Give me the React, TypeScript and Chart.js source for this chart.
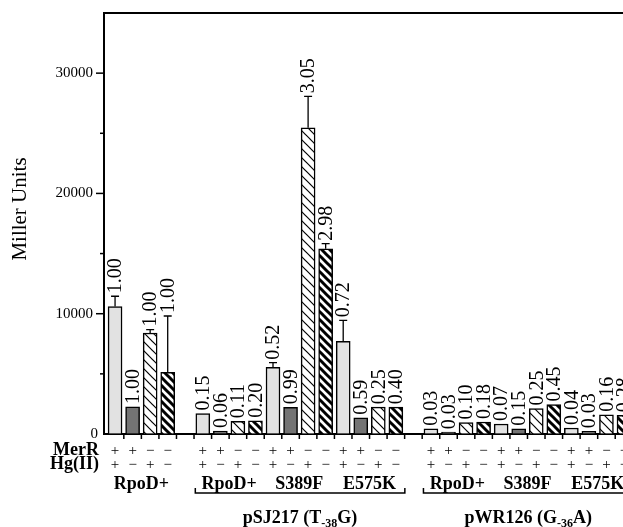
import React, { useEffect, useRef } from "react";
import { Chart, registerables } from "chart.js";

Chart.register(...registerables);

// ---------- data ----------
const merR = ["+", "+", "−", "−"];
const hgII = ["+", "−", "+", "−"];
const controlStrain = "RpoD+";
const strains = ["RpoD+", "S389F", "E575K"];
const plasmidNames = ["pSJ217", "pWR126"];
const mutationFrom = ["T", "G"];
const mutationPos = ["-38", "-36"];
const mutationTo = ["G", "A"];

const controlValues = [10600, 2250, 8400, 5130];
const controlErrors = [850, 0, 280, 4680];
const controlRatios = ["1.00", "1.00", "1.00", "1.00"];

const pSJ217Values = [1700, 250, 1050, 1100, 5550, 2220, 25450, 15400, 7700, 1350, 2230, 2230];
const pSJ217Errors = [0, 0, 0, 0, 380, 0, 2620, 420, 1750, 0, 0, 0];
const pSJ217Ratios = ["0.15", "0.06", "0.11", "0.20", "0.52", "0.99", "3.05", "2.98", "0.72", "0.59", "0.25", "0.40"];

const pWR126Values = [430, 150, 950, 1000, 830, 430, 2110, 2450, 500, 220, 1600, 1550];
const pWR126Errors = [0, 0, 0, 0, 0, 0, 0, 0, 0, 0, 0, 0];
const pWR126Ratios = ["0.03", "0.03", "0.10", "0.18", "0.07", "0.15", "0.25", "0.45", "0.04", "0.03", "0.16", "0.28"];

const plasmidValues = [pSJ217Values, pWR126Values];
const plasmidErrors = [pSJ217Errors, pWR126Errors];
const plasmidRatios = [pSJ217Ratios, pWR126Ratios];

const yMajorTicks = [0, 10000, 20000, 30000];
const yMinorTicks = [5000, 15000, 25000];
const yMax = 35000;

// ---------- build bar list ----------
type Bar = { slot: number; value: number; err: number; ratio: string; cond: number };
const nCond = merR.length;
const bars: Bar[] = [];
controlValues.forEach((v, i) =>
  bars.push({ slot: i, value: v, err: controlErrors[i], ratio: controlRatios[i], cond: i })
);
const blockStarts: number[] = [];
plasmidNames.forEach((_, p) => {
  const start = nCond + 1 + p * (strains.length * nCond + 1);
  blockStarts.push(start);
  plasmidValues[p].forEach((v, i) =>
    bars.push({
      slot: start + i,
      value: v,
      err: plasmidErrors[p][i],
      ratio: plasmidRatios[p][i],
      cond: i % nCond,
    })
  );
});
const lastSlot = bars[bars.length - 1].slot;

const SERIF = '"Liberation Serif", "Times New Roman", serif';

function makeHatch(size: number, lw: number): CanvasPattern | string {
  const c = document.createElement("canvas");
  c.width = size;
  c.height = size;
  const g = c.getContext("2d");
  if (!g) return "#fff";
  g.fillStyle = "#fff";
  g.fillRect(0, 0, size, size);
  g.strokeStyle = "#000";
  g.lineWidth = lw;
  g.lineCap = "square";
  for (const o of [-size, 0, size]) {
    g.beginPath();
    g.moveTo(o, 0);
    g.lineTo(o + size, size);
    g.stroke();
  }
  const pat = g.createPattern(c, "repeat");
  return pat || "#fff";
}

export default function App() {
  const ref = useRef<HTMLCanvasElement | null>(null);

  useEffect(() => {
    document.body.style.margin = "0";
    const canvas = ref.current;
    if (!canvas) return;

    const fills = ["#e2e2e2", "#747474", makeHatch(9, 1.2), makeHatch(8, 3)];

    // x range: slot centers, with the right side cut by the canvas edge
    const xMin = -0.63;
    const xMax = lastSlot - 0.057;

    const annot = {
      id: "annot",
      afterDraw(chart: any) {
        const { ctx, chartArea, scales } = chart;
        const xs = scales.x;
        const ys = scales.y;
        ctx.save();
        ctx.fillStyle = "#000";
        ctx.strokeStyle = "#000";

        // top frame line
        ctx.lineWidth = 2;
        ctx.beginPath();
        ctx.moveTo(chartArea.left - 1, chartArea.top);
        ctx.lineTo(chartArea.right, chartArea.top);
        ctx.stroke();

        // y ticks
        ctx.lineWidth = 1.5;
        const left = chartArea.left;
        yMajorTicks.forEach((t) => {
          if (t === 0) return;
          const py = ys.getPixelForValue(t);
          ctx.beginPath();
          ctx.moveTo(left - 8, py);
          ctx.lineTo(left, py);
          ctx.stroke();
        });
        yMinorTicks.forEach((t) => {
          const py = ys.getPixelForValue(t);
          ctx.beginPath();
          ctx.moveTo(left - 4, py);
          ctx.lineTo(left, py);
          ctx.stroke();
        });
        // zero label sits closer to the axis (no tick mark there)
        ctx.font = `15px ${SERIF}`;
        ctx.textAlign = "right";
        ctx.textBaseline = "middle";
        ctx.fillText("0", left - 6, ys.getPixelForValue(0));

        // x ticks between slots
        const base = ys.getPixelForValue(0);
        for (let s = 0; s < lastSlot; s++) {
          const px = xs.getPixelForValue(s + 0.5);
          ctx.beginPath();
          ctx.moveTo(px, base);
          ctx.lineTo(px, base + 5);
          ctx.stroke();
        }

        // error bars + ratio labels
        bars.forEach((b) => {
          const cx = xs.getPixelForValue(b.slot);
          let topV = b.value;
          if (b.err > 0) {
            const y0 = ys.getPixelForValue(b.value);
            const y1 = ys.getPixelForValue(b.value + b.err);
            ctx.lineWidth = 1.3;
            ctx.beginPath();
            ctx.moveTo(cx, y0);
            ctx.lineTo(cx, y1);
            ctx.moveTo(cx - 4, y1);
            ctx.lineTo(cx + 4, y1);
            ctx.stroke();
            topV = b.value + b.err;
          }
          const ty = ys.getPixelForValue(topV) - 3;
          ctx.save();
          ctx.translate(cx + 1, ty);
          ctx.rotate(-Math.PI / 2);
          ctx.font = `20px ${SERIF}`;
          ctx.textAlign = "left";
          ctx.textBaseline = "middle";
          ctx.fillText(b.ratio, 0, 0);
          ctx.restore();
        });

        // +/- rows
        ctx.font = `15px ${SERIF}`;
        ctx.textAlign = "center";
        ctx.textBaseline = "middle";
        bars.forEach((b) => {
          const cx = xs.getPixelForValue(b.slot);
          ctx.fillText(merR[b.cond], cx, 451);
          ctx.fillText(hgII[b.cond], cx, 465);
        });

        // row titles
        ctx.font = `bold 18px ${SERIF}`;
        ctx.textAlign = "right";
        ctx.fillText("MerR", 99, 450);
        ctx.fillText("Hg(II)", 99, 464);

        // strain labels
        ctx.textAlign = "center";
        const groupCenter = (s0: number) =>
          (xs.getPixelForValue(s0) + xs.getPixelForValue(s0 + nCond - 1)) / 2;
        ctx.fillText(controlStrain, groupCenter(0), 484);
        blockStarts.forEach((start) => {
          strains.forEach((st, k) => {
            ctx.fillText(st, groupCenter(start + k * nCond), 484);
          });
        });

        // brackets + plasmid labels
        blockStarts.forEach((start, p) => {
          const end = start + strains.length * nCond - 1;
          const x0 = xs.getPixelForValue(start) - 7.5;
          const x1 = xs.getPixelForValue(end) + 9;
          ctx.lineWidth = 1.5;
          ctx.beginPath();
          ctx.moveTo(x0, 488);
          ctx.lineTo(x0, 493);
          ctx.lineTo(x1, 493);
          ctx.lineTo(x1, 488);
          ctx.stroke();

          const mainFont = `bold 18px ${SERIF}`;
          const subFont = `bold 12px ${SERIF}`;
          const partA = `${plasmidNames[p]} (${mutationFrom[p]}`;
          const partB = mutationPos[p];
          const partC = `${mutationTo[p]})`;
          ctx.font = mainFont;
          const wA = ctx.measureText(partA).width;
          const wC = ctx.measureText(partC).width;
          ctx.font = subFont;
          const wB = ctx.measureText(partB).width;
          const total = wA + wB + wC;
          const cxm = (x0 + x1) / 2;
          let sx = cxm - total / 2;
          ctx.textAlign = "left";
          ctx.textBaseline = "alphabetic";
          ctx.font = mainFont;
          ctx.fillText(partA, sx, 523);
          sx += wA;
          ctx.font = subFont;
          ctx.fillText(partB, sx, 527);
          sx += wB;
          ctx.font = mainFont;
          ctx.fillText(partC, sx, 523);
          ctx.textBaseline = "middle";
        });

        // y axis title
        ctx.save();
        ctx.translate(20, 209);
        ctx.rotate(-Math.PI / 2);
        ctx.font = `21px ${SERIF}`;
        ctx.textAlign = "center";
        ctx.textBaseline = "middle";
        ctx.fillText("Miller Units", 0, 0);
        ctx.restore();

        ctx.restore();
      },
    };

    const chart = new Chart(canvas, {
      type: "bar",
      data: {
        datasets: [
          {
            data: bars.map((b) => ({ x: b.slot, y: b.value })),
            backgroundColor: bars.map((b) => fills[b.cond]) as any,
            borderColor: "#000",
            borderWidth: 1.5,
            barThickness: 14,
          },
        ],
      },
      options: {
        animation: false,
        responsive: true,
        maintainAspectRatio: false,
        layout: { padding: { top: 13, left: 0, right: 0, bottom: 0 } },
        plugins: { legend: { display: false }, tooltip: { enabled: false } },
        scales: {
          x: {
            type: "linear",
            offset: false,
            min: xMin,
            max: xMax,
            ticks: { display: false },
            grid: { display: false, offset: false },
            border: { display: true, color: "#000", width: 2 },
            afterFit: (s: any) => {
              s.height = 93;
            },
          },
          y: {
            min: 0,
            max: yMax,
            ticks: {
              stepSize: 5000,
              callback: (v: any) =>
                Number(v) !== 0 && yMajorTicks.includes(Number(v)) ? String(v) : "",
              font: { family: SERIF, size: 15 },
              color: "#000",
              padding: 3,
            },
            grid: {
              display: true,
              drawOnChartArea: false,
              drawTicks: true,
              tickLength: 8,
              tickColor: "rgba(0,0,0,0)",
            },
            border: { display: true, color: "#000", width: 2 },
            afterFit: (s: any) => {
              s.width = 104;
            },
          },
        },
      } as any,
      plugins: [annot],
    });

    return () => chart.destroy();
  }, []);

  return (
    <div style={{ width: 623, height: 527, position: "relative", background: "#fff" }}>
      <canvas ref={ref} />
    </div>
  );
}
